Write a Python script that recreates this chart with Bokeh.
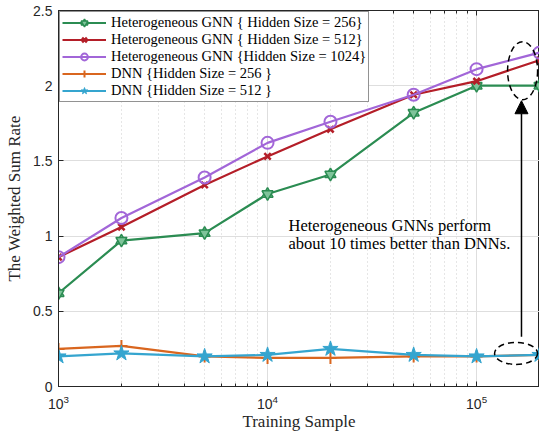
from bokeh.plotting import figure
from bokeh.models import (FixedTicker, LogTickFormatter, NumeralTickFormatter, Legend, LegendItem,
                          Arrow, NormalHead, Label, LogAxis, LinearAxis)
from bokeh.embed import file_html
from bokeh.resources import INLINE

# ---- data ----
samples = [1000, 2000, 5000, 10000, 20000, 50000, 100000, 200000]
gnn_256 = [0.62, 0.97, 1.02, 1.28, 1.41, 1.82, 2.00, 2.00]
gnn_512 = [0.86, 1.06, 1.34, 1.53, 1.71, 1.94, 2.03, 2.17]
gnn_1024 = [0.86, 1.12, 1.39, 1.62, 1.76, 1.94, 2.11, 2.22]
dnn_256 = [0.25, 0.27, 0.20, 0.19, 0.19, 0.20, 0.20, 0.21]
dnn_512 = [0.20, 0.22, 0.20, 0.21, 0.25, 0.21, 0.20, 0.21]

labels = ["Heterogeneous GNN { Hidden Size = 256}",
          "Heterogeneous GNN { Hidden Size = 512}",
          "Heterogeneous GNN {Hidden Size = 1024}",
          "DNN {Hidden Size = 256 }",
          "DNN {Hidden Size = 512 }"]
x_major = [1e3, 1e4, 1e5]
x_minor = [2e3, 3e3, 4e3, 5e3, 6e3, 7e3, 8e3, 9e3,
           2e4, 3e4, 4e4, 5e4, 6e4, 7e4, 8e4, 9e4, 2e5]
y_ticks = [0, 0.5, 1, 1.5, 2, 2.5]

# annotation anchors
ell_x = [1.66e5, 1.545e5]
ell_y = [2.10, 0.22]
ell_w = [30, 43]
ell_h = [58, 22]
arrow_x = 1.64e5
arrow_y0 = 0.33
arrow_y1 = 1.90
note_x = 1.26e4
note_lines = ["Heterogeneous GNNs perform", "about 10 times better than DNNs."]
note_y = [1.073, 0.953]

green = "#2b8c52"
red = "#b41e28"
purple = "#a266d8"
orange = "#d9661f"
blue = "#35a5cf"
AX = "#262626"

SERIF = "Liberation Serif"
SANS = "Liberation Sans"

p = figure(frame_width=481, frame_height=376, x_axis_type="log",
           x_range=(1000, 200000), y_range=(0, 2.5),
           output_backend="svg", toolbar_location=None,
           min_border_left=58, min_border_right=0, min_border_top=10, min_border_bottom=51)

p.xaxis.ticker = FixedTicker(ticks=x_major, minor_ticks=x_minor)
p.xaxis.formatter = LogTickFormatter()
p.yaxis.ticker = FixedTicker(ticks=y_ticks)
p.yaxis.formatter = NumeralTickFormatter(format="0.[0]")

for ax in (p.xaxis, p.yaxis):
    ax.major_tick_in = 5
    ax.major_tick_out = 0
    ax.minor_tick_in = 3
    ax.minor_tick_out = 0
    ax.axis_line_color = AX
    ax.major_tick_line_color = AX
    ax.minor_tick_line_color = AX
    ax.major_label_text_color = AX
    ax.major_label_text_font = SANS
    ax.major_label_text_font_size = "14px"
    ax.axis_label_text_font = SERIF
    ax.axis_label_text_font_size = "17px"
    ax.axis_label_text_font_style = "normal"
    ax.axis_label_text_color = AX
p.yaxis.minor_tick_line_color = None
p.xaxis.axis_label = "Training Sample"
p.yaxis.axis_label = "The Weighted Sum Rate"
p.xaxis.axis_label_standoff = 0
p.yaxis.axis_label_standoff = 6
p.xaxis.major_label_standoff = 8
p.yaxis.major_label_standoff = 6

# inward ticks on the top edge (box style)
top_ax = LogAxis(ticker=FixedTicker(ticks=x_major, minor_ticks=x_minor),
                 major_label_text_font_size="1px", major_label_text_alpha=0,
                 major_label_standoff=0,
                 major_tick_in=5, major_tick_out=0, minor_tick_in=3, minor_tick_out=0,
                 axis_line_color=AX, major_tick_line_color=AX, minor_tick_line_color=AX)
p.add_layout(top_ax, "above")

p.xgrid.grid_line_color = "#dedede"
p.ygrid.grid_line_color = "#dedede"
p.xgrid.minor_grid_line_color = "#cccccc"
p.xgrid.minor_grid_line_dash = "1 3"
p.outline_line_color = AX
p.outline_line_width = 1

lw = 2.2
r_g = p.line(samples, gnn_256, color=green, line_width=lw)
r_g1 = p.scatter(samples, gnn_256, marker="triangle", size=11, line_color=green, fill_color="#7fc49a", line_width=1.5)
r_g2 = p.scatter(samples, gnn_256, marker="inverted_triangle", size=11, line_color=green, fill_color="#7fc49a", line_width=1.5)

r_r = p.line(samples, gnn_512, color=red, line_width=lw)
r_r1 = p.scatter(samples, gnn_512, marker="x", size=9, line_color=red, line_width=2.5)

r_p = p.line(samples, gnn_1024, color=purple, line_width=lw)
r_p1 = p.scatter(samples, gnn_1024, marker="circle", size=12, line_color=purple, fill_color=None, line_width=2)

r_o = p.line(samples, dnn_256, color=orange, line_width=lw)
r_o1 = p.scatter(samples, dnn_256, marker="cross", size=12, line_color=orange, line_width=2)

r_b = p.line(samples, dnn_512, color=blue, line_width=lw)
r_b1 = p.scatter(samples, dnn_512, marker="star", size=16, line_color=blue, fill_color=blue, line_width=1)

# annotations
p.ellipse(x=ell_x, y=ell_y, width=ell_w, height=ell_h, width_units="screen", height_units="screen",
          fill_color=None, line_color="black", line_dash="6 4", line_width=1.5)
p.add_layout(Arrow(x_start=arrow_x, y_start=arrow_y0, x_end=arrow_x, y_end=arrow_y1,
                   line_color="black", line_width=1.5,
                   end=NormalHead(size=13, fill_color="black", line_color="black")))
for txt, yy in zip(note_lines, note_y):
    p.add_layout(Label(x=note_x, y=yy, text=txt, text_font=SERIF, text_font_size="16.5px",
                       text_baseline="middle", text_color="black"))

legend = Legend(items=[
    LegendItem(label=labels[0], renderers=[r_g, r_g1, r_g2]),
    LegendItem(label=labels[1], renderers=[r_r, r_r1]),
    LegendItem(label=labels[2], renderers=[r_p, r_p1]),
    LegendItem(label=labels[3], renderers=[r_o, r_o1]),
    LegendItem(label=labels[4], renderers=[r_b, r_b1]),
], location="top_left")
legend.margin = 1
legend.padding = 2
legend.spacing = 0
legend.label_height = 17
legend.glyph_height = 17
legend.glyph_width = 44
legend.label_standoff = 5
legend.label_text_font = SERIF
legend.label_text_font_size = "14.5px"
legend.label_text_color = "black"
legend.border_line_color = AX
legend.border_line_width = 1
legend.background_fill_alpha = 1
p.add_layout(legend)

open("out.html", "w").write(file_html(p, INLINE))
